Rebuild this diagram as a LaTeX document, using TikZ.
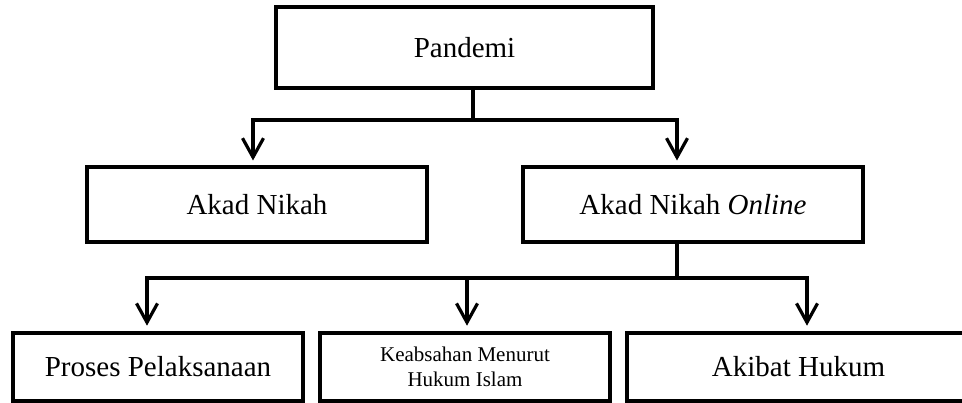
\documentclass[tikz,border=0pt]{standalone}
\usepackage{fontspec}
\setmainfont{Liberation Serif}
\usetikzlibrary{arrows.meta}
\begin{document}
\begin{tikzpicture}[x=1pt,y=-1pt,
  topbox/.style={draw=black, line width=4pt, inner sep=0pt, font=\fontsize{29}{34}\selectfont, align=center},
  botbox/.style={draw=black, line width=4.6pt, inner sep=0pt, font=\fontsize{29}{34}\selectfont, align=center},
  conn/.style={line width=3.2pt, line join=miter},
  arr/.style={conn, -{Straight Barb[length=19pt, width=21pt, line width=3.2pt]}}]
\useasboundingbox (0,0) rectangle (962,403);
\fill[white] (0,0) rectangle (962,403);
\node[topbox, minimum width=377pt, minimum height=81pt] (pan) at (464.5,47.5) {Pandemi};
\node[topbox, minimum width=340pt, minimum height=75pt] (akad) at (257,204.5) {Akad Nikah};
\node[topbox, minimum width=340pt, minimum height=75pt] (onl) at (693,204.5) {Akad Nikah \textit{Online}};
\node[botbox, minimum width=290pt, minimum height=68pt] (pros) at (158,367) {Proses Pelaksanaan};
\node[botbox, minimum width=290pt, minimum height=68pt, font=\fontsize{21}{25}\selectfont] (keab) at (465,367) {Keabsahan Menurut\\Hukum Islam};
\node[botbox, minimum width=343pt, minimum height=68pt] (akib) at (798.5,367) {Akibat Hukum};
% level 1 connectors
\coordinate (j1) at (473,120);
\draw[conn] ([xshift=8.5pt]pan.south) -- (j1);
\draw[arr] (j1) -| ([xshift=-4pt,yshift=4.5pt]akad.north);
\draw[arr] (j1) -| ([xshift=-16pt,yshift=4.5pt]onl.north);
% level 2 connectors
\coordinate (j2) at (677,278);
\draw[conn] ([xshift=-16pt]onl.south) -- (j2);
\draw[arr] (j2) -| ([xshift=-11pt,yshift=5pt]pros.north);
\draw[arr] (j2) -| ([xshift=2pt,yshift=5pt]keab.north);
\draw[arr] (j2) -| ([xshift=8.5pt,yshift=5pt]akib.north);
\end{tikzpicture}
\end{document}
